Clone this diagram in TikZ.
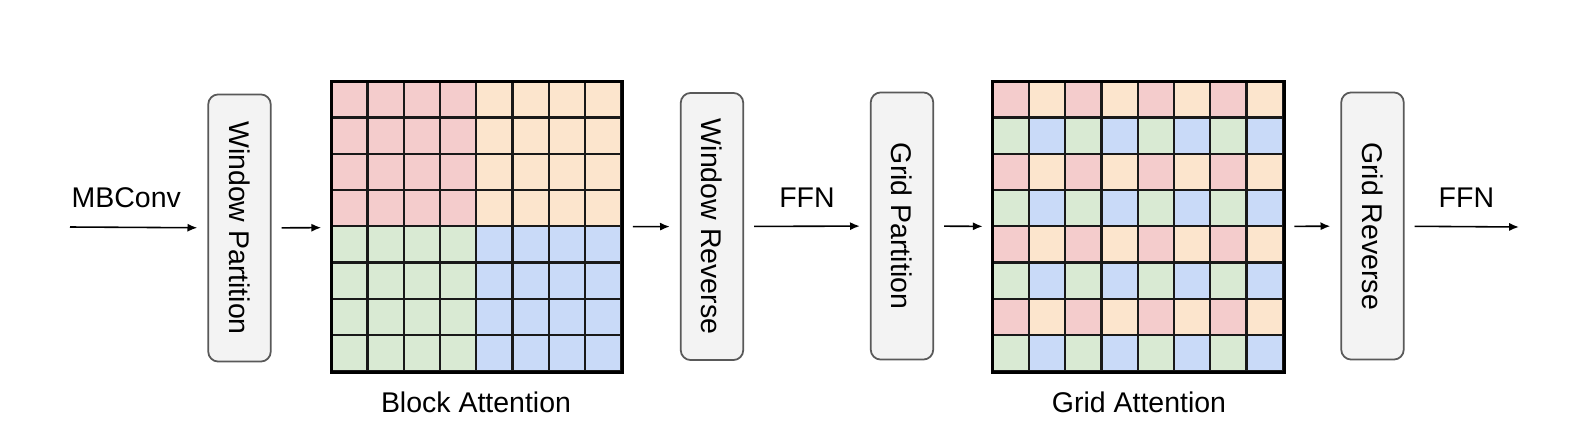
\documentclass[tikz,border=0pt]{standalone}
\usepackage{fontspec}
\setmainfont{Liberation Sans}
\usepackage{tikz}
\usetikzlibrary{arrows.meta, positioning}

\definecolor{cellred}{HTML}{F4CCCC}
\definecolor{cellorange}{HTML}{FCE5CD}
\definecolor{cellgreen}{HTML}{D9EAD3}
\definecolor{cellblue}{HTML}{C9DAF8}
\definecolor{opfill}{HTML}{F3F3F3}
\definecolor{opline}{HTML}{595959}

\tikzset{
  op/.style={draw=opline, fill=opfill, line width=0.5pt, rounded corners=0.1cm,
    minimum width=0.625cm, minimum height=2.67cm, inner sep=0pt,
    font=\fontsize{8.1}{10}\selectfont},
  flow/.style={-{Latex[length=2.8pt,width=2.3pt]}, line width=0.45pt,
    shorten >=0.1cm, shorten <=0.1cm},
  lbl/.style={font=\fontsize{8.1}{10}\selectfont, anchor=base},
  attn/.style={minimum width=2.9cm, minimum height=2.9cm, inner sep=0pt},
  cell/.style={draw=black!90, line width=0.65pt},
}

\begin{document}
\begin{tikzpicture}[x=0.01cm, y=-0.01cm]
  \useasboundingbox (0,0) rectangle (1578,436);

  % stages
  \coordinate (in) at (70,227);
  \node[op] (wpart) at (239.5,228) {\rotatebox{-90}{Window Partition}};
  \node[attn] (blk) at (477,227) {};
  \node[op] (wrev) at (712,226.5) {\rotatebox{-90}{Window Reverse}};
  \node[op] (gpart) at (902,226) {\rotatebox{-90}{Grid Partition}};
  \node[attn] (grd) at (1138.5,227) {};
  \node[op] (grev) at (1372.5,226) {\rotatebox{-90}{Grid Reverse}};
  \coordinate (out) at (1519,227);

  % block attention: four 4x4 windows
  \foreach \r in {0,...,7}
    \foreach \c in {0,...,7} {
      \pgfmathtruncatemacro{\k}{2*(\r>3)+(\c>3)}
      \ifcase\k \def\cc{cellred}\or \def\cc{cellorange}\or \def\cc{cellgreen}\else \def\cc{cellblue}\fi
      \filldraw[cell, fill=\cc, shift={(blk.north west)}] (\c*36.25,\r*36.25) rectangle ++(36.25,36.25);
    }
  \draw[line width=0.8pt] (blk.north west) rectangle (blk.south east);

  % grid attention: interleaved cells
  \foreach \r in {0,...,7}
    \foreach \c in {0,...,7} {
      \pgfmathtruncatemacro{\k}{2*mod(\r,2)+mod(\c,2)}
      \ifcase\k \def\cc{cellred}\or \def\cc{cellorange}\or \def\cc{cellgreen}\else \def\cc{cellblue}\fi
      \filldraw[cell, fill=\cc, shift={(grd.north west)}] (\c*36.25,\r*36.25) rectangle ++(36.25,36.25);
    }
  \draw[line width=0.8pt] (grd.north west) rectangle (grd.south east);

  \node[lbl] (blklbl) at (476,412) {Block Attention};
  \node[lbl] (grdlbl) at (1139,412) {Grid Attention};

  % connectors
  \draw[flow, shorten <=0pt] (in) -- node[lbl, pos=0.41, above=1.9pt, anchor=south] {MBConv} (wpart);
  \draw[flow] (wpart) -- (blk);
  \draw[flow] (blk) -- (wrev);
  \draw[flow] (wrev) -- node[lbl, above=1.9pt, anchor=south] {FFN} (gpart);
  \draw[flow] (gpart) -- (grd);
  \draw[flow] (grd) -- (grev);
  \draw[flow, shorten >=0pt] (grev) -- node[lbl, pos=0.54, above=1.9pt, anchor=south] {FFN} (out);
\end{tikzpicture}
\end{document}
